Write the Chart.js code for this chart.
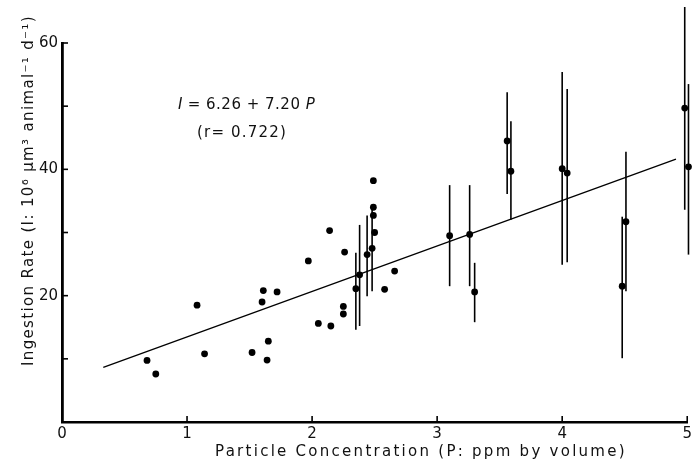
<!DOCTYPE html>
<html>
<head>
<meta charset="utf-8">
<script src="https://cdn.jsdelivr.net/npm/chart.js@4.4.1/dist/chart.umd.min.js"></script>
<style>
html,body{margin:0;padding:0;background:#fff;}
#wrap{width:695px;height:466px;position:relative;}
</style>
</head>
<body>
<div id="wrap"><canvas id="c" width="695" height="466"></canvas></div>
<script>
// Individual observations (no error bars)
const singleP = [0.68,0.75,1.08,1.14,1.52,1.60,1.61,1.64,1.65,1.72,1.97,2.05,2.14,2.15,2.25,2.25,2.26,2.49,2.49,2.49,2.50,2.58,2.66];
const singleI = [9.75,7.6,18.5,10.8,11.0,19.0,20.8,9.8,12.8,20.6,25.5,15.6,30.3,15.2,18.3,17.1,26.9,38.2,34.0,32.7,30.0,21.0,23.9];

// Means with error bars
const barP    = [2.35,2.38,2.44,2.48,3.10,3.26,3.30,3.56,3.59,4.00,4.04,4.48,4.51,4.98,5.01];
const barI    = [21.1,23.3,26.5,27.5,29.5,29.7,20.6,44.5,39.7,40.1,39.4,21.5,31.7,49.7,40.4];
const barLow  = [14.6,15.2,19.9,20.7,21.5,21.5,15.8,36.1,32.0,24.9,25.3,10.1,20.7,33.6,26.5];
const barHigh = [26.8,31.2,32.7,33.9,37.5,37.5,25.2,52.2,47.6,55.4,52.7,32.5,42.8,65.7,53.5];

// Regression I = 6.26 + 7.20 P
const intercept = 6.26;
const slope = 7.20;
const fitRange = [0.33, 4.91];

const xTicks = [0,1,2,3,4,5];
const yTicks = [0,10,20,30,40,50,60];
const yLabelled = [20,40,60];

const xTitle = "Particle Concentration (P: ppm by volume)";
const yTitle = "Ingestion Rate (I: 10⁶ µm³ animal⁻¹ d⁻¹)";
const eqLeft = "I", eqMid = " = 6.26 + 7.20 ", eqRight = "P";
const rText = "(r= 0.722)";

const FONT = "'DejaVu Sans', sans-serif";

const points = singleP.map((p,i)=>({x:p,y:singleI[i]})).concat(barP.map((p,i)=>({x:p,y:barI[i]})));

const datasets = [];
datasets.push({
  type:'scatter', data: points, pointRadius:3.4, pointBackgroundColor:'#000',
  pointBorderColor:'#000', pointBorderWidth:0, clip:false, order:0
});
barP.forEach((p,i)=>{
  datasets.push({
    type:'line', data:[{x:p,y:barLow[i]},{x:p,y:barHigh[i]}],
    borderColor:'#000', borderWidth:1.6, pointRadius:0, clip:false, order:1
  });
});
datasets.push({
  type:'line', data: fitRange.map(p=>({x:p,y:intercept+slope*p})),
  borderColor:'#000', borderWidth:1.3, pointRadius:0, clip:false, order:2
});

function spacedText(ctx, text, x, y, width){
  ctx.letterSpacing = '0px';
  const w = ctx.measureText(text).width;
  const n = [...text].length;
  const sp = (width - w) / n;
  ctx.letterSpacing = sp.toFixed(2) + 'px';
  ctx.fillText(text, x, y);
  ctx.letterSpacing = '0px';
}

const decor = {
  id:'decor',
  afterDraw(chart){
    const ctx = chart.ctx, xs = chart.scales.x, ys = chart.scales.y;
    ctx.save();
    ctx.strokeStyle = '#000';
    ctx.lineWidth = 1.6;
    const x0 = xs.getPixelForValue(0), y0 = ys.getPixelForValue(0);
    yTicks.forEach(v=>{
      const py = ys.getPixelForValue(v);
      ctx.beginPath(); ctx.moveTo(x0, py); ctx.lineTo(x0+6, py); ctx.stroke();
    });
    xTicks.forEach(v=>{
      const px = xs.getPixelForValue(v);
      ctx.beginPath(); ctx.moveTo(px, y0); ctx.lineTo(px, y0-6); ctx.stroke();
    });
    ctx.fillStyle = '#111';
    ctx.textBaseline = 'alphabetic';
    ctx.textAlign = 'left';
    // x title
    ctx.font = "15px " + FONT;
    spacedText(ctx, xTitle, 215, 456, 412);
    // y title
    ctx.save();
    ctx.translate(33, 366);
    ctx.rotate(-Math.PI/2);
    ctx.font = "15px " + FONT;
    spacedText(ctx, yTitle, 0, 0, 351);
    ctx.restore();
    // equation
    ctx.font = "italic 15px " + FONT;
    let x = 178;
    ctx.fillText(eqLeft, x, 109); x += ctx.measureText(eqLeft).width;
    ctx.font = "15px " + FONT;
    ctx.letterSpacing = '0.5px';
    ctx.fillText(eqMid, x, 109); x += ctx.measureText(eqMid).width;
    ctx.letterSpacing = '0px';
    ctx.font = "italic 15px " + FONT;
    ctx.fillText(eqRight, x, 109);
    ctx.font = "15px " + FONT;
    spacedText(ctx, rText, 197, 137, 90);
    ctx.restore();
  }
};

new Chart(document.getElementById('c'), {
  data:{datasets},
  options:{
    responsive:false, animation:false,
    layout:{padding:{top:43,right:3,left:0,bottom:0}},
    plugins:{legend:{display:false}, tooltip:{enabled:false}},
    scales:{
      x:{
        type:'linear', min:0, max:5,
        afterBuildTicks(s){ s.ticks = xTicks.map(v=>({value:v})); },
        afterFit(s){ s.height = 44; },
        grid:{display:false, drawTicks:false},
        border:{display:true,color:'#000',width:2.5},
        ticks:{padding:3, color:'#111', font:{family:FONT,size:15}, callback:v=>String(v), maxRotation:0}
      },
      y:{
        type:'linear', min:0, max:60,
        afterBuildTicks(s){ s.ticks = yTicks.map(v=>({value:v})); },
        afterFit(s){ s.width = 62; },
        grid:{display:false, drawTicks:false},
        border:{display:true,color:'#000',width:2.8},
        ticks:{padding:4, color:'#111', font:{family:FONT,size:15}, callback:v=> yLabelled.includes(v)? String(v):''}
      }
    }
  },
  plugins:[decor]
});
</script>
</body>
</html>
